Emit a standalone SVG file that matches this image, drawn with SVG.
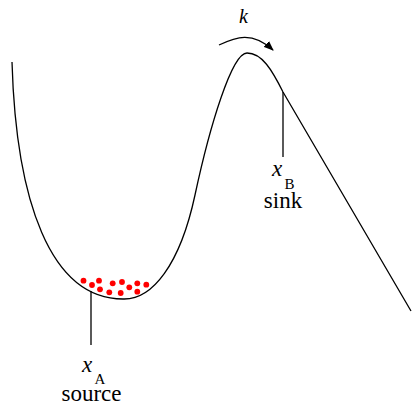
<svg xmlns="http://www.w3.org/2000/svg" width="412" height="408" viewBox="0 0 412 408">
<style>
.ln{fill:none;stroke:#000;stroke-width:1.3}
.t{font-family:"Liberation Serif","Times New Roman",serif;font-size:23px;fill:#000}
.i{font-style:italic}
.s{font-size:15px}
.d{fill:#ff0000}
</style>
<defs>
<marker id="ah" markerWidth="10" markerHeight="8" refX="9" refY="4" orient="auto" markerUnits="userSpaceOnUse">
<path d="M0,0 L10,4 L0,8 Z" fill="#000"/>
</marker>
</defs>
<g id="connectors">
<path id="curve" class="ln" d="M12,62 C16,200 50,299 123,299 C152,300 180,265 195,195 C210,125 232,53 247,53 C262,53 272,70 283,92 L411,311"/>
<path id="arrow" class="ln" d="M219,45 C236,37 252,31 273,50" marker-end="url(#ah)"/>
<line class="ln" x1="91" y1="291" x2="91" y2="345"/>
<line class="ln" x1="283" y1="92" x2="283" y2="157"/>
</g>
<g id="particles">
<circle class="d" cx="83.5" cy="280.7" r="2.9"/>
<circle class="d" cx="92" cy="285" r="2.9"/>
<circle class="d" cx="99" cy="280.7" r="2.9"/>
<circle class="d" cx="100" cy="289.3" r="2.9"/>
<circle class="d" cx="112.7" cy="283.3" r="2.9"/>
<circle class="d" cx="109.3" cy="292.3" r="2.9"/>
<circle class="d" cx="122" cy="282" r="2.9"/>
<circle class="d" cx="120.7" cy="293" r="2.9"/>
<circle class="d" cx="129.3" cy="287.3" r="2.9"/>
<circle class="d" cx="137.3" cy="283.3" r="2.9"/>
<circle class="d" cx="137.3" cy="291.7" r="2.9"/>
<circle class="d" cx="146.3" cy="284.7" r="2.9"/>
</g>
<g id="label-k"><text class="t i" x="239" y="23" style="font-size:20px">k</text></g>
<g id="node-xA">
<text class="t i" x="82" y="372">x</text>
<text class="t s" x="94.5" y="384">A</text>
<text class="t" x="91.5" y="401" text-anchor="middle">source</text>
</g>
<g id="node-xB">
<text class="t i" x="272" y="176">x</text>
<text class="t s" x="284.5" y="189">B</text>
<text class="t" x="283" y="208" text-anchor="middle">sink</text>
</g>
</svg>
